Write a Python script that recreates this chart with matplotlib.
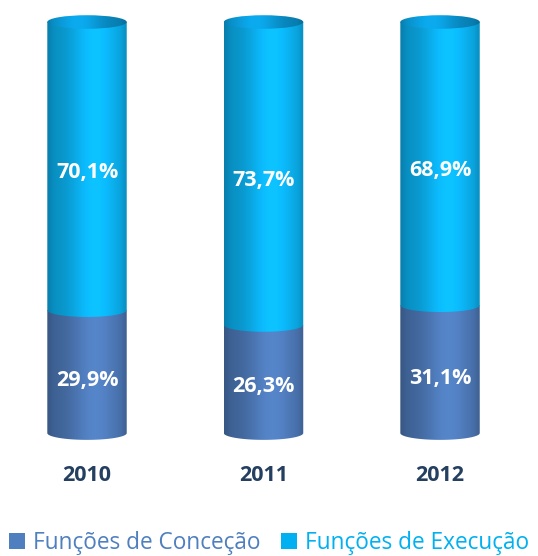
import numpy as np
import matplotlib.pyplot as plt
from matplotlib.patches import Polygon, Ellipse, Patch
from matplotlib.colors import to_rgb

# dados
anos = ["2010", "2011", "2012"]
concecao = [29.9, 26.3, 31.1]
execucao = [70.1, 73.7, 68.9]
series = ["Funções de Conceção", "Funções de Execução"]
cores = ["#4d78b6", "#0bb0ee"]
cores_legenda = ["#4f7fbf", "#00b0f0"]

plt.rcParams['font.family'] = ['Open Sans', 'DejaVu Sans']

fig = plt.figure(figsize=(5.38, 5.56), dpi=100)
ax = fig.add_axes([0, 0, 1, 1])
ax.set_xlim(-0.493, 2.555)
ax.set_ylim(-29.9, 105.35)
ax.axis("off")

largura = 0.45
eh = 3.3  # altura da elipse (unidades de y)


def sombra(cor, n=200):
    # gradiente horizontal: escuro nas bordas, claro perto de 60%
    t = np.linspace(0, 1, n)
    f = 0.80 + 0.28 * np.exp(-((t - 0.6) / 0.3) ** 2)
    f = f + 0.05 * t - 0.08 * np.exp(-(t / 0.06) ** 2) - 0.08 * np.exp(-((1 - t) / 0.06) ** 2)
    rgb = np.clip(np.outer(f, to_rgb(cor)), 0, 1)
    return rgb[np.newaxis, :, :]


def segmento(xc, y0, y1, cor, z):
    th = np.linspace(np.pi, 2 * np.pi, 60)
    ex = xc + largura / 2 * np.cos(th)
    ey = y0 + eh / 2 * np.sin(th)
    pts = [(xc - largura / 2, y1)] + list(zip(ex, ey)) + [(xc + largura / 2, y1)]
    poly = Polygon(pts, closed=True, facecolor="none", edgecolor="none", zorder=z)
    ax.add_patch(poly)
    im = ax.imshow(sombra(cor), extent=[xc - largura / 2, xc + largura / 2, y0 - eh, y1],
                   aspect="auto", zorder=z, interpolation="bilinear")
    im.set_clip_path(poly)


for i, ano in enumerate(anos):
    c = concecao[i]
    segmento(i, 0, c, cores[0], 2)
    segmento(i, c, c + execucao[i], cores[1], 3)
    # tampa superior
    topo = Ellipse((i, c + execucao[i]), largura, eh, facecolor="none", edgecolor="none", zorder=4)
    ax.add_patch(topo)
    im = ax.imshow(sombra("#0a9ad8")[:, ::-1], extent=[i - largura / 2, i + largura / 2,
                   c + execucao[i] - eh / 2, c + execucao[i] + eh / 2],
                   aspect="auto", zorder=4, interpolation="bilinear")
    im.set_clip_path(topo)

    ax.text(i, c * 0.43, f"{c:.1f}%".replace(".", ","), color="white", fontsize=15.5,
            fontweight="bold", ha="center", va="center", zorder=5)
    ax.text(i, (c + 100) / 2 - 1.6, f"{execucao[i]:.1f}%".replace(".", ","), color="white",
            fontsize=15.5, fontweight="bold", ha="center", va="center", zorder=5)
    ax.text(i, -10.4, ano, color="#243f60", fontsize=15.5, fontweight="bold",
            ha="center", va="center")

handles = [Patch(facecolor=cores_legenda[k], label=series[k]) for k in range(2)]
leg = ax.legend(handles=handles, loc="lower center", bbox_to_anchor=(0.5, -0.035), ncol=2,
                frameon=False, fontsize=16.3, handlelength=0.7, handleheight=0.7,
                handletextpad=0.35, columnspacing=0.9, labelcolor=cores_legenda)

fig.savefig("out.png", dpi=100, facecolor="white")
